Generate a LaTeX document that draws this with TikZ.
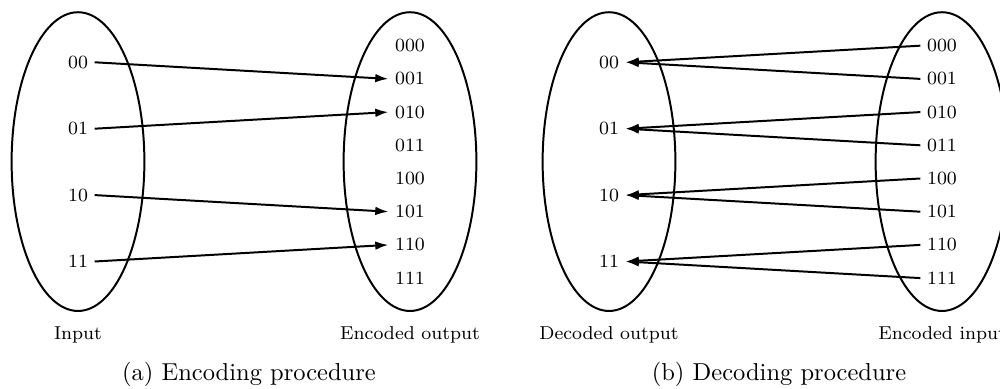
\documentclass[tikz,border=0pt]{standalone}
\usetikzlibrary{arrows.meta}
\begin{document}
\begin{tikzpicture}[x=0.4286pt,y=-0.4286pt,
  set/.style={draw,line width=0.85pt},
  lab/.style={font=\fontsize{8}{9.6}\selectfont, inner sep=2.7pt},
  sublab/.style={font=\fontsize{8}{9.6}\selectfont, anchor=base},
  captext/.style={font=\fontsize{10.5}{12.6}\selectfont, anchor=base},
  arr/.style={line width=0.85pt,-{Latex[length=5.6pt,width=3.7pt]}}]
\useasboundingbox (0,0) rectangle (1000,389);
\clip (0,0) rectangle (1000,389);
% ---------- (a) ----------
\draw[set] (78,161.6) ellipse [x radius=1cm, y radius=2.25cm];
\draw[set] (410,161.6) ellipse [x radius=1cm, y radius=2.25cm];
\foreach \t [count=\i from 0] in {00,01,10,11}
  \node[lab] (a\t) at (78,62.3+66.4*\i) {\t};
\foreach \t [count=\i from 0] in {000,001,010,011,100,101,110,111}
  \node[lab] (a\t) at (410,45.7+33.2*\i) {\t};
\draw[arr] (a00.east) -- (a001.west);
\draw[arr] (a01.east) -- (a010.west);
\draw[arr] (a10.east) -- (a101.west);
\draw[arr] (a11.east) -- (a110.west);
\node[sublab] (inA) at (78,340) {Input};
\node[sublab] (outA) at (410,340) {Encoded output};
\node[captext] (capA) at (249,381) {(a) Encoding procedure};
% ---------- (b) ----------
\draw[set] (609,161.6) ellipse [x radius=1cm, y radius=2.25cm];
\draw[set] (942,161.6) ellipse [x radius=1cm, y radius=2.25cm];
\foreach \t [count=\i from 0] in {00,01,10,11}
  \node[lab] (b\t) at (609,62.3+66.4*\i) {\t};
\foreach \t [count=\i from 0] in {000,001,010,011,100,101,110,111}
  \node[lab] (b\t) at (942,45.7+33.2*\i) {\t};
\draw[arr] (b000.west) -- (b00.east);
\draw[arr] (b001.west) -- (b00.east);
\draw[arr] (b010.west) -- (b01.east);
\draw[arr] (b011.west) -- (b01.east);
\draw[arr] (b100.west) -- (b10.east);
\draw[arr] (b101.west) -- (b10.east);
\draw[arr] (b110.west) -- (b11.east);
\draw[arr] (b111.west) -- (b11.east);
\node[sublab] (outB) at (609,340) {Decoded output};
\node[sublab] (inB) at (942,340) {Encoded input};
\node[captext] (capB) at (779,381) {(b) Decoding procedure};
\end{tikzpicture}
\end{document}
